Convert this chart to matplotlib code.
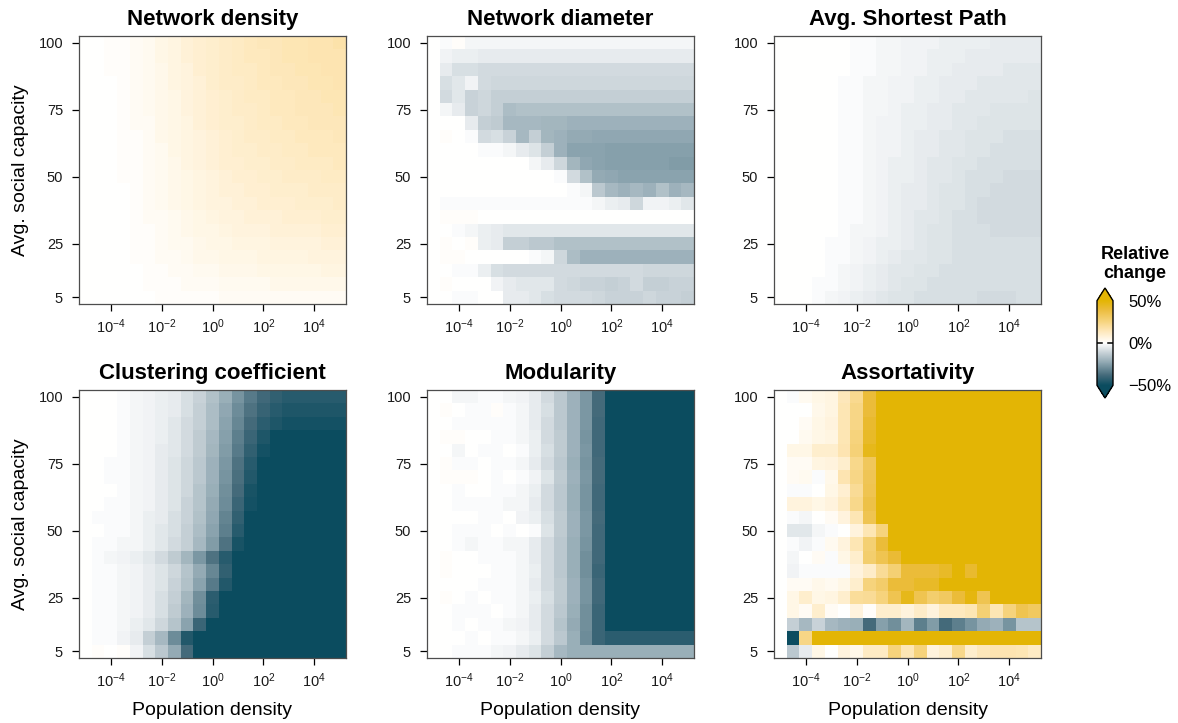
import numpy as np
import matplotlib
matplotlib.use("Agg")
import matplotlib.pyplot as plt
from matplotlib.colors import LinearSegmentedColormap, Normalize
from matplotlib.cm import ScalarMappable
from matplotlib.ticker import NullLocator

plt.rcParams["font.family"] = ["Liberation Sans", "DejaVu Sans"]
plt.rcParams["mathtext.fontset"] = "custom"
plt.rcParams["mathtext.rm"] = "Liberation Sans"
plt.rcParams["mathtext.it"] = "Liberation Sans:italic"
plt.rcParams["mathtext.bf"] = "Liberation Sans:bold"
plt.rcParams["mathtext.default"] = "regular"

# log10(population density), one heatmap column each
density_exp = [-5.0, -4.5, -4.0, -3.5, -3.0, -2.5, -2.0, -1.5, -1.0, -0.5, 0.0,
               0.5, 1.0, 1.5, 2.0, 2.5, 3.0, 3.5, 4.0, 4.5, 5.0]
# avg. social capacity, rows listed from top (100) to bottom (5)
capacity = [100, 95, 90, 85, 80, 75, 70, 65, 60, 55, 50, 45, 40, 35, 30, 25, 20, 15, 10, 5]

x_tick_exp = [-4, -2, 0, 2, 4]
y_ticks = [5, 25, 50, 75, 100]
cbar_ticks = [-50, 0, 50]
cbar_labels = ["\u221250%", "0%", "50%"]

titles = ["Network density", "Network diameter", "Avg. Shortest Path",
          "Clustering coefficient", "Modularity", "Assortativity"]

# relative change (%) per cell
network_density = [
    [0, 0, 1, 1, 2, 3, 5, 6, 8, 9, 10, 11, 12, 13, 14, 14, 15, 15, 16, 16, 17],
    [0, 0, 1, 1, 2, 3, 5, 6, 8, 9, 10, 11, 12, 13, 13, 14, 15, 15, 16, 16, 16],
    [0, 0, 1, 1, 2, 3, 4, 6, 7, 9, 10, 11, 12, 12, 13, 14, 14, 15, 15, 16, 16],
    [0, 0, 0, 1, 2, 3, 4, 6, 7, 8, 10, 11, 11, 12, 13, 13, 14, 14, 15, 15, 16],
    [0, 0, 0, 1, 2, 3, 4, 5, 7, 8, 9, 10, 11, 12, 12, 13, 13, 14, 14, 15, 15],
    [0, 0, 0, 1, 2, 3, 4, 5, 7, 8, 9, 10, 11, 11, 12, 13, 13, 14, 14, 14, 15],
    [0, 0, 0, 1, 2, 2, 4, 5, 6, 8, 9, 10, 10, 11, 12, 12, 13, 13, 14, 14, 14],
    [0, 0, 0, 1, 1, 2, 4, 5, 6, 7, 8, 9, 10, 11, 11, 12, 12, 13, 13, 13, 14],
    [0, 0, 0, 1, 1, 2, 3, 5, 6, 7, 8, 9, 10, 10, 11, 11, 12, 12, 13, 13, 13],
    [0, 0, 0, 1, 1, 2, 3, 4, 6, 7, 8, 9, 9, 10, 10, 11, 11, 12, 12, 12, 13],
    [0, 0, 0, 1, 1, 2, 3, 4, 5, 6, 7, 8, 9, 9, 10, 10, 11, 11, 11, 12, 12],
    [0, 0, 0, 0, 1, 2, 3, 4, 5, 6, 7, 8, 8, 9, 9, 10, 10, 10, 11, 11, 11],
    [0, 0, 0, 0, 1, 2, 3, 4, 5, 6, 7, 7, 8, 8, 9, 9, 9, 10, 10, 10, 11],
    [0, 0, 0, 0, 1, 2, 2, 3, 4, 5, 6, 7, 7, 8, 8, 8, 9, 9, 9, 10, 10],
    [0, 0, 0, 0, 1, 1, 2, 3, 4, 5, 5, 6, 7, 7, 7, 8, 8, 8, 8, 9, 9],
    [0, 0, 0, 0, 1, 1, 2, 3, 3, 4, 5, 5, 6, 6, 6, 7, 7, 7, 7, 8, 8],
    [0, 0, 0, 0, 1, 1, 2, 2, 3, 4, 4, 5, 5, 5, 6, 6, 6, 6, 7, 7, 7],
    [0, 0, 0, 0, 0, 1, 1, 2, 2, 3, 3, 4, 4, 4, 5, 5, 5, 5, 5, 6, 6],
    [0, 0, 0, 0, 0, 1, 1, 1, 2, 2, 2, 3, 3, 3, 3, 4, 4, 4, 4, 4, 4],
    [0, 0, 0, 0, 0, 0, 1, 1, 1, 1, 1, 2, 2, 2, 2, 2, 2, 2, 2, 2, 2],
]

network_diameter = [
    [0, -1, 1, -2, -2, -2, -2, -2, -2, -2, -2, -2, -2, -2, -2, -2, -2, -2, -2, -2, -2],
    [0, -3, -4, -4, -5, -5, -5, -5, -5, -5, -5, -5, -5, -5, -5, -5, -5, -5, -5, -5, -5],
    [0, -5, -8, -8, -9, -9, -9, -9, -9, -9, -9, -9, -9, -9, -9, -9, -9, -9, -9, -9, -9],
    [0, -8, -6, -3, -9, -10, -10, -10, -10, -10, -10, -10, -10, -10, -10, -10, -10, -10, -10, -10, -10],
    [0, -9, -6, -11, -10, -12, -12, -12, -12, -12, -12, -12, -12, -12, -12, -12, -12, -12, -12, -12, -12],
    [0, -2, -5, -11, -10, -12, -17, -16, -16, -16, -16, -16, -16, -16, -16, -16, -16, -16, -16, -16, -16],
    [0, 0, 0, -5, -12, -13, -18, -18, -18, -19, -19, -20, -20, -20, -20, -20, -20, -20, -20, -20, -20],
    [0, 1, 0, -1, -9, -8, -11, -18, -12, -19, -20, -22, -22, -23, -23, -23, -23, -23, -23, -23, -23],
    [0, 0, 0, 0, -1, -1, -2, -5, -7, -12, -20, -24, -24, -24, -25, -25, -25, -25, -25, -25, -25],
    [0, 0, 0, 0, 0, 0, 0, 0, -2, -5, -10, -19, -23, -24, -25, -25, -25, -25, -25, -26, -26],
    [0, 0, 0, 0, 0, 0, 0, 0, 0, 0, -1, -9, -16, -22, -23, -24, -24, -24, -24, -24, -24],
    [0, 0, 0, 0, 0, 0, 0, 0, 0, 0, 0, -1, -2, -14, -18, -20, -18, -20, -16, -20, -18],
    [0, -1, -1, -1, -1, -1, -1, -1, -1, -1, -1, -1, -1, -2, -4, -5, -10, -3, -3, -4, -6],
    [0, 1, 1, 1, 0, 0, 0, 0, 0, 0, 0, 0, 0, 0, 0, 0, 0, 0, 0, 0, 0],
    [0, 0, -1, -2, -4, -5, -6, -6, -6, -6, -6, -6, -6, -6, -6, -6, -6, -6, -6, -6, -6],
    [0, 1, 0, 1, -4, -5, -12, -12, -14, -14, -16, -16, -16, -16, -16, -16, -16, -16, -16, -16, -16],
    [0, 1, 1, 0, 0, 0, 0, 0, -1, -2, -10, -17, -20, -20, -20, -20, -20, -20, -20, -20, -20],
    [0, 0, -1, -1, -4, -8, -9, -9, -9, -9, -9, -9, -9, -9, -9, -9, -9, -10, -10, -10, -10],
    [0, 1, 0, 0, 0, -3, -5, -6, -6, -6, -9, -10, -11, -11, -12, -11, -9, -12, -12, -11, -11],
    [0, 0, -1, -1, 0, 0, -5, -5, -6, -8, -9, -9, -9, -10, -11, -11, -11, -10, -11, -11, -12],
]

shortest_path = [
    [0, 0, 0, 0, 0, 0, -1, -1, -2, -2, -3, -3, -3, -4, -4, -4, -4, -5, -5, -5, -5],
    [0, 0, 0, 0, 0, 0, -1, -1, -2, -2, -3, -3, -4, -4, -4, -5, -5, -5, -5, -5, -5],
    [0, 0, 0, 0, 0, 0, -1, -1, -2, -2, -3, -3, -4, -4, -5, -5, -5, -5, -6, -6, -6],
    [0, 0, 0, 0, 0, -1, -1, -2, -2, -3, -3, -4, -4, -5, -5, -5, -6, -6, -6, -6, -6],
    [0, 0, 0, 0, 0, -1, -1, -2, -2, -3, -3, -4, -4, -5, -5, -6, -6, -6, -6, -6, -7],
    [0, 0, 0, 0, 0, -1, -1, -2, -2, -3, -4, -4, -5, -5, -6, -6, -6, -7, -7, -7, -7],
    [0, 0, 0, 0, 0, -1, -1, -2, -3, -3, -4, -4, -5, -5, -6, -6, -7, -7, -7, -7, -7],
    [0, 0, 0, 0, 0, -1, -1, -2, -3, -3, -4, -5, -5, -6, -6, -7, -7, -7, -8, -8, -8],
    [0, 0, 0, 0, 0, -1, -1, -2, -3, -3, -4, -5, -5, -6, -6, -7, -7, -8, -8, -8, -8],
    [0, 0, 0, 0, 0, -1, -1, -2, -3, -4, -4, -5, -6, -6, -7, -7, -8, -8, -8, -8, -8],
    [0, 0, 0, 0, 0, -1, -1, -2, -3, -4, -4, -5, -6, -6, -7, -8, -8, -8, -9, -9, -9],
    [0, 0, 0, 0, 0, -1, -1, -2, -3, -4, -5, -5, -6, -7, -7, -8, -8, -9, -9, -9, -9],
    [0, 0, 0, 0, 0, -1, -1, -2, -3, -4, -5, -5, -6, -7, -7, -8, -9, -9, -9, -9, -9],
    [0, 0, 0, 0, 0, -1, -1, -2, -3, -4, -5, -6, -6, -7, -8, -8, -9, -9, -9, -9, -9],
    [0, 0, 0, 0, 0, -1, -2, -2, -3, -4, -5, -6, -7, -7, -8, -8, -8, -9, -9, -9, -9],
    [0, 0, 0, 0, -1, -1, -2, -3, -4, -4, -5, -6, -7, -7, -8, -8, -8, -8, -8, -8, -8],
    [0, 0, 0, 0, -1, -1, -2, -3, -4, -5, -6, -6, -7, -7, -8, -8, -8, -8, -8, -8, -8],
    [0, 0, 0, 0, -1, -2, -3, -4, -5, -6, -6, -7, -7, -8, -8, -8, -8, -8, -8, -8, -8],
    [0, 0, 0, -1, -1, -2, -3, -4, -5, -6, -7, -7, -8, -8, -8, -8, -8, -8, -8, -8, -8],
    [0, 0, 0, -1, -2, -3, -4, -5, -6, -7, -7, -8, -8, -8, -8, -8, -9, -9, -9, -8, -8],
]

clustering = [
    [0, 0, 0, -1, -2, -3, -4, -5, -8, -11, -16, -21, -28, -34, -39, -42, -44, -44, -44, -44, -44],
    [0, 0, 0, -1, -2, -3, -4, -5, -8, -12, -17, -23, -30, -36, -41, -44, -46, -46, -46, -46, -46],
    [0, 0, 0, -1, -2, -3, -4, -6, -9, -12, -17, -24, -31, -38, -43, -46, -48, -48, -48, -48, -48],
    [0, 0, 0, -1, -2, -3, -4, -6, -9, -13, -18, -25, -33, -40, -46, -50, -50, -50, -50, -50, -50],
    [0, 0, 0, -1, -2, -3, -5, -6, -9, -13, -19, -26, -34, -42, -48, -50, -50, -50, -50, -50, -50],
    [0, 0, -1, -1, -2, -3, -5, -7, -10, -14, -20, -27, -36, -44, -50, -50, -50, -50, -50, -50, -50],
    [0, 0, -1, -1, -2, -3, -5, -7, -10, -14, -20, -28, -37, -45, -50, -50, -50, -50, -50, -50, -50],
    [0, 0, 0, -1, -2, -3, -5, -7, -10, -15, -21, -29, -38, -47, -50, -50, -50, -50, -50, -50, -50],
    [0, 0, -1, -1, -2, -3, -5, -7, -11, -15, -22, -30, -40, -48, -50, -50, -50, -50, -50, -50, -50],
    [0, -1, -1, -1, -2, -4, -5, -8, -11, -16, -23, -32, -42, -50, -50, -50, -50, -50, -50, -50, -50],
    [0, 0, -1, -1, -2, -4, -6, -8, -12, -17, -24, -33, -44, -50, -50, -50, -50, -50, -50, -50, -50],
    [0, -1, -1, -2, -2, -4, -6, -9, -12, -18, -26, -36, -47, -50, -50, -50, -50, -50, -50, -50, -50],
    [0, -1, -2, -3, -4, -6, -9, -13, -19, -27, -36, -44, -50, -50, -50, -50, -50, -50, -50, -50, -50],
    [0, -1, -1, -2, -3, -5, -7, -10, -15, -22, -31, -42, -50, -50, -50, -50, -50, -50, -50, -50, -50],
    [0, -1, -1, -2, -3, -5, -7, -11, -16, -24, -34, -45, -50, -50, -50, -50, -50, -50, -50, -50, -50],
    [0, -1, -1, -2, -3, -5, -8, -12, -19, -29, -43, -50, -50, -50, -50, -50, -50, -50, -50, -50, -50],
    [0, -1, -1, -2, -3, -5, -8, -13, -20, -30, -44, -50, -50, -50, -50, -50, -50, -50, -50, -50, -50],
    [0, -1, -1, -2, -4, -6, -10, -15, -24, -40, -50, -50, -50, -50, -50, -50, -50, -50, -50, -50, -50],
    [0, -1, -1, -3, -5, -12, -18, -30, -45, -50, -50, -50, -50, -50, -50, -50, -50, -50, -50, -50, -50],
    [0, 1, 0, 1, -3, -8, -14, -22, -38, -50, -50, -50, -50, -50, -50, -50, -50, -50, -50, -50, -50],
]

modularity = [
    [0, 0, -2, -2, -1, -1, -2, -3, -5, -9, -14, -20, -27, -38, -50, -50, -50, -50, -50, -50, -50],
    [0, 1, 0, -1, -1, 1, -1, -2, -5, -8, -14, -20, -27, -38, -50, -50, -50, -50, -50, -50, -50],
    [0, 0, -1, -1, -1, -1, -1, -2, -5, -9, -14, -20, -27, -39, -50, -50, -50, -50, -50, -50, -50],
    [0, 1, 1, 0, 0, -1, -1, -2, -4, -9, -13, -20, -28, -39, -50, -50, -50, -50, -50, -50, -50],
    [0, 0, -2, 0, -1, -1, 0, -1, -4, -8, -13, -20, -27, -39, -50, -50, -50, -50, -50, -50, -50],
    [0, 1, -1, -1, 0, -1, -1, -2, -5, -9, -14, -21, -28, -38, -50, -50, -50, -50, -50, -50, -50],
    [0, 1, 1, 1, 0, -1, 0, -1, -3, -7, -13, -20, -27, -38, -50, -50, -50, -50, -50, -50, -50],
    [0, 0, -1, 0, 0, -1, -1, -2, -4, -9, -14, -21, -28, -39, -50, -50, -50, -50, -50, -50, -50],
    [0, 0, -1, -1, -1, -1, -2, -2, -5, -9, -14, -21, -28, -39, -50, -50, -50, -50, -50, -50, -50],
    [0, 0, 0, 0, -1, -1, 0, -3, -4, -8, -13, -20, -27, -38, -50, -50, -50, -50, -50, -50, -50],
    [0, 0, -1, -1, -1, 0, -1, 0, -1, -7, -13, -20, -27, -39, -50, -50, -50, -50, -50, -50, -50],
    [0, 0, -1, -2, -1, -1, -2, -2, -5, -9, -14, -21, -28, -39, -50, -50, -50, -50, -50, -50, -50],
    [0, 1, 0, 0, -1, -1, -1, -2, -5, -9, -14, -21, -29, -39, -50, -50, -50, -50, -50, -50, -50],
    [0, 1, 0, 0, 0, -1, -1, -2, -4, -9, -14, -21, -29, -40, -50, -50, -50, -50, -50, -50, -50],
    [0, 0, 0, 0, -1, -1, -1, -2, -5, -9, -13, -20, -28, -39, -50, -50, -50, -50, -50, -50, -50],
    [0, 1, 0, -1, 0, -1, -1, -2, -4, -8, -13, -20, -28, -39, -50, -50, -50, -50, -50, -50, -50],
    [0, 0, -1, -1, -1, 0, -1, -2, -5, -9, -14, -21, -29, -40, -50, -50, -50, -50, -50, -50, -50],
    [0, 0, -1, 0, -1, -1, -2, -3, -5, -9, -15, -22, -29, -40, -50, -50, -50, -50, -50, -50, -50],
    [0, 0, 0, -1, 0, -1, -1, -2, -4, -9, -14, -21, -30, -40, -43, -43, -43, -43, -43, -43, -43],
    [0, 0, -1, -1, -1, -2, -3, -5, -7, -12, -18, -21, -21, -21, -21, -21, -21, -21, -21, -21, -21],
]

assortativity = [
    [0, -1, 3, 5, 6, 14, 22, 40, 50, 50, 50, 50, 50, 50, 50, 50, 50, 50, 50, 50, 50],
    [0, 0, 0, 4, 6, 15, 24, 40, 50, 50, 50, 50, 50, 50, 50, 50, 50, 50, 50, 50, 50],
    [0, 0, 2, 5, 7, 15, 24, 42, 50, 50, 50, 50, 50, 50, 50, 50, 50, 50, 50, 50, 50],
    [0, 0, 3, 5, 6, 15, 26, 43, 50, 50, 50, 50, 50, 50, 50, 50, 50, 50, 50, 50, 50],
    [0, 5, 5, 10, 10, 16, 27, 46, 50, 50, 50, 50, 50, 50, 50, 50, 50, 50, 50, 50, 50],
    [0, 2, 2, 6, 7, 10, 23, 33, 50, 50, 50, 50, 50, 50, 50, 50, 50, 50, 50, 50, 50],
    [0, 2, 3, -1, 4, 16, 24, 34, 50, 50, 50, 50, 50, 50, 50, 50, 50, 50, 50, 50, 50],
    [0, -1, -1, 0, 5, 9, 21, 35, 50, 50, 50, 50, 50, 50, 50, 50, 50, 50, 50, 50, 50],
    [0, 7, 7, 5, 7, 12, 23, 37, 50, 50, 50, 50, 50, 50, 50, 50, 50, 50, 50, 50, 50],
    [0, -1, -2, 0, 2, 7, 15, 35, 50, 50, 50, 50, 50, 50, 50, 50, 50, 50, 50, 50, 50],
    [0, -6, -6, -2, -1, 0, 7, 15, 26, 50, 50, 50, 50, 50, 50, 50, 50, 50, 50, 50, 50],
    [0, -1, -3, -1, 3, 7, 15, 28, 40, 50, 50, 50, 50, 50, 50, 50, 50, 50, 50, 50, 50],
    [0, -2, 0, 2, -1, 5, 10, 29, 35, 41, 50, 50, 50, 50, 50, 50, 50, 50, 50, 50, 50],
    [0, -3, -1, -1, -1, -1, 7, 11, 21, 28, 40, 40, 40, 43, 50, 42, 50, 50, 50, 50, 50],
    [0, 2, 2, 4, 3, 5, 10, 26, 30, 40, 40, 43, 43, 50, 50, 50, 50, 50, 50, 50, 50],
    [0, 5, 10, 5, 6, 10, 20, 21, 26, 35, 46, 35, 29, 32, 40, 48, 35, 50, 50, 50, 50],
    [0, 5, 2, 10, 2, 0, 7, 1, 10, 10, 7, 11, 7, 13, 13, 15, 28, 15, 26, 35, 32],
    [0, -12, -18, -11, -18, -20, -21, -38, -25, -29, -19, -33, -26, -38, -33, -28, -22, -20, -28, -15, -15],
    [0, -50, 24, 50, 50, 50, 50, 50, 50, 50, 50, 50, 50, 50, 50, 50, 50, 50, 50, 50, 50],
    [0, -14, -5, 5, 0, 7, 4, 12, 12, 26, 15, 26, 7, 10, 23, 10, 14, 16, 16, 15, 12],
]

panels = [network_density, network_diameter, shortest_path,
          clustering, modularity, assortativity]

TEAL = "#0B4C5F"
GOLD = "#E3B505"
cmap = LinearSegmentedColormap.from_list("relchange", [
    (0.00, TEAL), (0.12, "#456B7B"), (0.25, "#86A0AB"), (0.38, "#C4CFD5"),
    (0.50, "#FFFFFF"), (0.57, "#FFF3DC"), (0.66, "#FDE4B0"), (0.73, "#F8D88B"),
    (0.90, "#EBBC3A"), (1.00, GOLD)])
cmap.set_over(GOLD)
cmap.set_under(TEAL)
norm = Normalize(vmin=-50, vmax=50)

# cell edges (half a step either side of each centre)
xe = np.array(density_exp)
x_edges = 10.0 ** np.concatenate([[xe[0] - 0.25], (xe[:-1] + xe[1:]) / 2, [xe[-1] + 0.25]])
ye = np.array(capacity, dtype=float)
y_edges = np.concatenate([[ye[0] + 2.5], (ye[:-1] + ye[1:]) / 2, [ye[-1] - 2.5]])

W, H = 1178, 723
fig = plt.figure(figsize=(W / 100, H / 100), dpi=100)
fig.patch.set_facecolor("white")

def px_axes(left, top, width, height):
    return fig.add_axes([left / W, 1 - (top + height) / H, width / W, height / H])

lefts = [79, 427, 774]
tops = [36, 390]
for i, (vals, title) in enumerate(zip(panels, titles)):
    row, col = divmod(i, 3)
    ax = px_axes(lefts[col], tops[row], 267, 268)
    ax.pcolormesh(x_edges, y_edges, np.array(vals, dtype=float), cmap=cmap, norm=norm,
                  shading="flat", linewidth=0, antialiased=False)
    ax.set_xscale("log")
    ax.set_xlim(x_edges[0], x_edges[-1])
    ax.set_ylim(2.5, 102.5)
    ax.set_xticks([10.0 ** e for e in x_tick_exp])
    ax.set_xticklabels([f"$10^{{{e}}}$" for e in x_tick_exp])
    ax.xaxis.set_minor_locator(NullLocator())
    ax.set_yticks(y_ticks)
    ax.set_yticklabels([str(v) for v in y_ticks])
    ax.tick_params(direction="out", length=5, width=0.9, color="black",
                   labelsize=10.5, labelcolor="#1a1a1a")
    ax.tick_params(axis="x", pad=4.5)
    ax.tick_params(axis="y", pad=6.5)
    for sp in ax.spines.values():
        sp.set_color("#4d4d4d")
        sp.set_linewidth(0.9)
    ax.set_title(title, fontsize=16, fontweight="bold", pad=8)
    if col == 0:
        ax.set_ylabel("Avg. social capacity", fontsize=14, labelpad=7)
    if row == 1:
        ax.set_xlabel("Population density", fontsize=14, labelpad=9)

# colour bar
cax = px_axes(1097, 288, 16, 110)
cbar = fig.colorbar(ScalarMappable(norm=norm, cmap=cmap), cax=cax,
                    extend="both", extendfrac=0.15)
cbar.outline.set_linewidth(1.0)
cbar.outline.set_edgecolor("black")
cbar.set_ticks(cbar_ticks)
cbar.set_ticklabels(cbar_labels)
cbar.ax.tick_params(length=0, labelsize=12, pad=11)
cbar.ax.plot([0, 0.3], [0, 0], color="black", lw=1.1, scalex=False, scaley=False)
cbar.ax.plot([0.7, 1], [0, 0], color="black", lw=1.1, scalex=False, scaley=False)
fig.text(1135 / W, 1 - 264 / H, "Relative\nchange", ha="center", va="center",
         fontsize=13, fontweight="bold", linespacing=1.15)

fig.savefig("out.png", dpi=100, facecolor="white")
